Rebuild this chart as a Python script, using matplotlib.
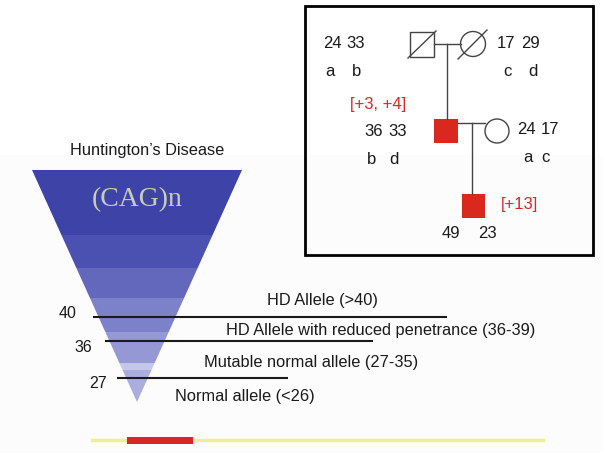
import matplotlib.pyplot as plt
from matplotlib.patches import Polygon, Rectangle, Circle

# --- data ---
cag_thresholds = [40, 36, 27]
allele_classes = ["HD Allele (>40)",
                  "HD Allele with reduced penetrance (36-39)",
                  "Mutable normal allele (27-35)",
                  "Normal allele (<26)"]
# pedigree: CAG repeat sizes and haplotypes per person
gf_repeats, gf_haplo = [24, 33], ["a", "b"]
gm_repeats, gm_haplo = [17, 29], ["c", "d"]
fa_repeats, fa_haplo = [36, 33], ["b", "d"]
mo_repeats, mo_haplo = [24, 17], ["a", "c"]
son_repeats = [49, 23]
expansions = ["[+3, +4]", "[+13]"]

# --- layout (pixel coords, y down) ---
W, H = 604, 458
RED = "#d9281e"
INK = "#1a1a1a"
FONT = "Liberation Sans"

fig = plt.figure(figsize=(W / 100, H / 100), dpi=100)
ax = fig.add_axes([0, 0, 1, 1])
ax.set_xlim(0, W)
ax.set_ylim(H, 0)
ax.axis("off")

# very faint grey backdrop of the left panel
ax.add_patch(Rectangle((0, 155), 600, 297, color="#fcfcfc", zorder=0))

# funnel / triangle with stepped bands
top_y, apex_y = 170, 402
left_x, right_x, apex_x = 32, 242, 137
bands = [(170, 235, "#3d43a7"), (235, 268, "#4b51b0"), (268, 298, "#6368bd"),
         (298, 332, "#7d81c9"), (332, 363, "#9598d4"), (363, 370, "#c5c7e8"),
         (370, 402, "#abaedd")]


def edge_x(y, side):
    t = (y - top_y) / (apex_y - top_y)
    x0 = left_x if side == "l" else right_x
    return x0 + (apex_x - x0) * t


for y0, y1, c in bands:
    pts = [(edge_x(y0, "l"), y0), (edge_x(y0, "r"), y0),
           (edge_x(y1, "r"), y1), (edge_x(y1, "l"), y1)]
    ax.add_patch(Polygon(pts, closed=True, color=c, lw=0, zorder=1))

ax.text(137, 200, "(CAG)n", family="Liberation Serif", fontsize=20,
        color="#c9cdb6", ha="center", va="center", zorder=3)
ax.text(147, 150, "Huntington\u2019s Disease", family=FONT, fontsize=11.8,
        color=INK, ha="center", va="center")

# threshold lines
thr_y = [317, 341, 378]
thr_x0 = [93, 105, 117]
thr_x1 = [447, 373, 288]
num_x = [68, 83, 98]
num_y = [314, 348, 383]
for i, thr in enumerate(cag_thresholds):
    ax.plot([thr_x0[i], thr_x1[i]], [thr_y[i], thr_y[i]], color=INK, lw=1.5,
            solid_capstyle="butt", zorder=4)
    ax.text(num_x[i], num_y[i], str(thr), family=FONT, fontsize=11.5,
            color=INK, ha="center", va="center")

lab_x = [322, 381, 311, 245]
lab_y = [300, 330, 363, 397]
for lbl, x, y in zip(allele_classes, lab_x, lab_y):
    ax.text(x, y, lbl, family=FONT, fontsize=11.8, color=INK,
            ha="center", va="center", zorder=4)

# gene bar
ax.plot([92, 543], [440, 440], color="#eef08c", lw=2.5, zorder=2)
ax.add_patch(Rectangle((127, 436.5), 66, 7, color=RED, lw=0, zorder=3))

# --- pedigree panel ---
ax.add_patch(Rectangle((305, 6), 288, 249, fill=False, ec="black", lw=2,
                       zorder=5))
LN = "#444444"
# grandparents
ax.add_patch(Rectangle((410, 32), 24, 25, fill=False, ec=LN, lw=1))
ax.plot([408, 436], [58, 31], color=LN, lw=1)
ax.add_patch(Circle((473, 44), 12.5, fill=False, ec=LN, lw=1))
ax.plot([458, 487], [59, 30], color=LN, lw=1)
ax.plot([434, 460.5], [44, 44], color=LN, lw=1)
ax.plot([447, 447], [44, 119], color=LN, lw=1)
# parents
ax.add_patch(Rectangle((434, 119), 24, 24, color=RED, lw=0))
ax.add_patch(Circle((497, 131), 12, fill=False, ec=LN, lw=1))
ax.plot([458, 485], [123, 123], color=LN, lw=1)
ax.plot([472, 472], [123, 194], color=LN, lw=1)
# son
ax.add_patch(Rectangle((462, 194), 23, 24, color=RED, lw=0))


def pair(vals, xs, y, color=INK):
    for v, x in zip(vals, xs):
        ax.text(x, y, str(v), family=FONT, fontsize=12, color=color,
                ha="center", va="center")


pair(gf_repeats, [332, 356], 43)
pair(gf_haplo, [330, 357], 71)
pair(gm_repeats, [506, 530], 43)
pair(gm_haplo, [507, 533], 71)
pair(fa_repeats, [374, 398], 131)
pair(fa_haplo, [372, 394], 159)
pair(mo_repeats, [526, 550], 129)
pair(mo_haplo, [528, 545], 158)
pair(son_repeats, [451, 487], 233)
ax.text(378, 104, expansions[0], family=FONT, fontsize=12, color=RED,
        ha="center", va="center")
ax.text(519, 204, expansions[1], family=FONT, fontsize=12, color=RED,
        ha="center", va="center")

fig.savefig("out.png", dpi=100)
